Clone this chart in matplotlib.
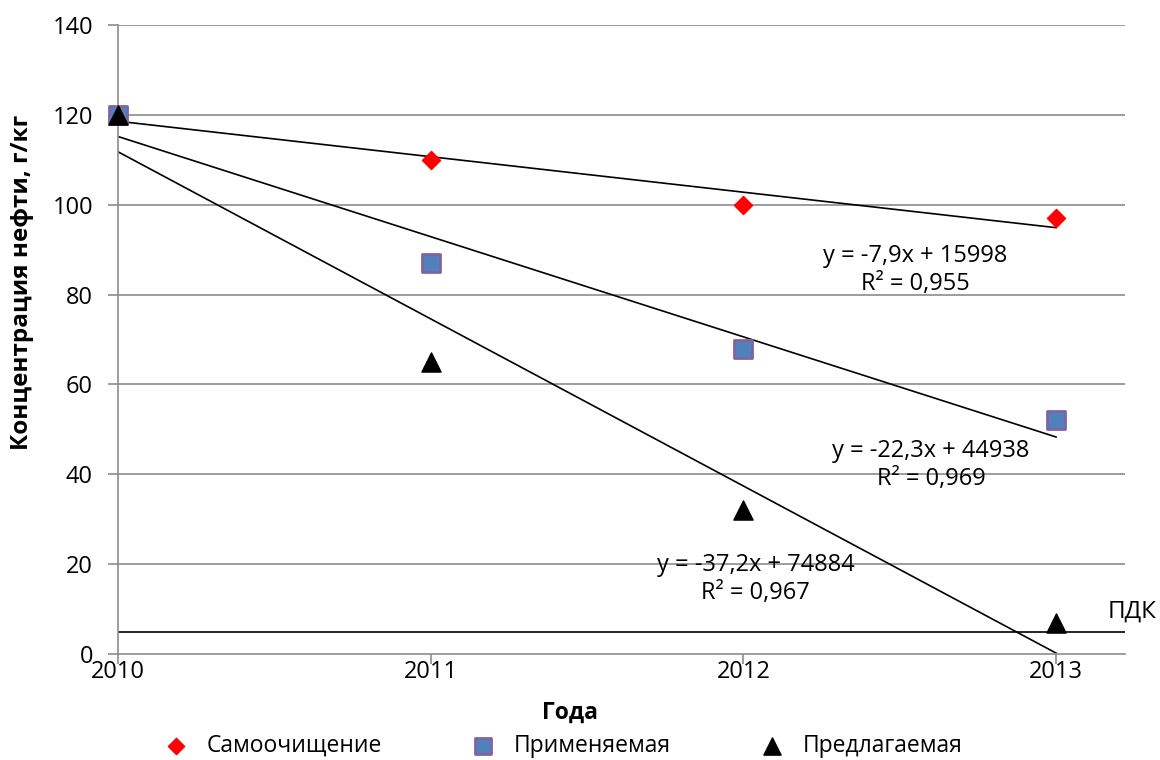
import numpy as np
import matplotlib.pyplot as plt

plt.rcParams['font.family'] = ['Open Sans', 'DejaVu Sans']

# data
years = [2010, 2011, 2012, 2013]
self_clean = [120, 110, 100, 97]
applied = [120, 87, 68, 52]
proposed = [120, 65, 32, 7]
pdk = 5

fig = plt.figure(figsize=(11.6, 7.6), dpi=100)
ax = fig.add_axes([0.1017, 0.1395, 0.868, 0.8275])

grid_col = '#8c8c8c'
for yv in range(20, 141, 20):
    ax.axhline(yv, color=grid_col, lw=1.2, zorder=0)

# linear trendlines (like excel)
x = np.array(years, dtype=float)
trend_text = []
for ser in [self_clean, applied, proposed]:
    k, b = np.polyfit(x, ser, 1)
    r2 = np.corrcoef(x, ser)[0, 1] ** 2
    ax.plot(x, k * x + b, color='black', lw=1.2, zorder=2)
    trend_text.append((k, b, r2))

def fmt(v, d):
    return f'{v:.{d}f}'.replace('.', ',')

pos = [(2012.55, 85.5), (2012.6, 42.1), (2012.04, 16.7)]
for (k, b, r2), (tx, ty) in zip(trend_text, pos):
    ax.text(tx, ty, f'y = {fmt(k, 1)}x + {b:.0f}\nR² = {fmt(r2, 3)}',
            ha='center', va='center', fontsize=17, linespacing=1.25, zorder=3)

ax.axhline(pdk, color='black', lw=1.2, zorder=2)
ax.text(2013.165, 9.4, 'ПДК', fontsize=17.5, ha='left', va='center')

ax.scatter(years, self_clean, marker='D', s=85, color='#ff0000', zorder=4,
           label='Самоочищение', clip_on=False)
ax.scatter(years, applied, marker='s', s=150, color='#4f81bd', edgecolors='#8064a2',
           linewidths=2, zorder=4, label='Применяемая', clip_on=False)
ax.scatter(years, proposed, marker='^', s=190, color='black', zorder=5,
           label='Предлагаемая', clip_on=False)

ax.set_xlim(2010, 2013.22)
ax.set_ylim(0, 140)
ax.set_xticks(years)
ax.set_yticks(range(0, 141, 20))
ax.tick_params(axis='both', labelsize=17, color=grid_col, length=7, width=1.2)
ax.tick_params(axis='x', pad=-3)
ax.tick_params(axis='y', pad=11)

for s in ['top', 'right']:
    ax.spines[s].set_visible(False)
for s in ['left', 'bottom']:
    ax.spines[s].set_color(grid_col)
    ax.spines[s].set_linewidth(1.2)

ax.set_xlabel('Года', fontsize=16.5, fontweight='bold')
ax.xaxis.set_label_coords(0.449, -0.075)
ax.set_ylabel('Концентрация нефти, г/кг', fontsize=17.5, fontweight='bold')
ax.yaxis.set_label_coords(-0.083, 0.59)

fig.legend(loc='center left', bbox_to_anchor=(153 / 1160, 1 - 746 / 760), ncol=3,
           frameon=False, fontsize=16.5, columnspacing=3.4, handletextpad=0.35,
           borderpad=0, borderaxespad=0, markerscale=0.9)

fig.savefig('out.png', dpi=100)
